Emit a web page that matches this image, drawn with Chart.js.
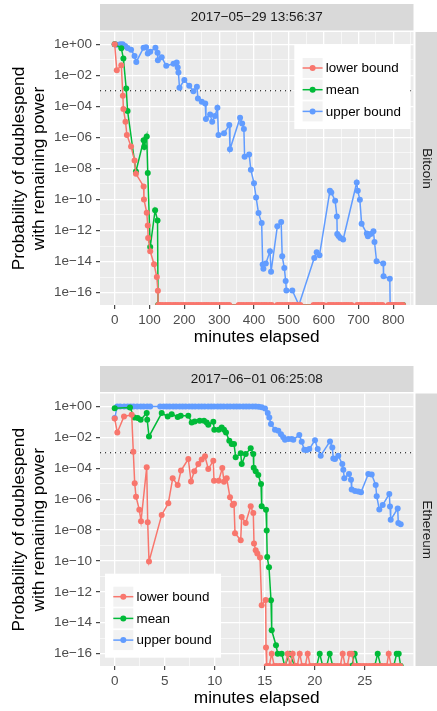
<!DOCTYPE html>
<html>
<head>
<meta charset="utf-8">
<script src="https://cdn.jsdelivr.net/npm/chart.js@4.4.1/dist/chart.umd.min.js"></script>
<style>
body{margin:0;background:#fff;width:437px;height:711px;overflow:hidden;position:relative}
canvas{position:absolute;left:0}
#c1{top:0}
#c2{top:355px}
</style>
</head>
<body>
<canvas id="c1" width="437" height="355"></canvas>
<canvas id="c2" width="437" height="356"></canvas>
<script>
const FONT = '"Liberation Sans", Arial, Helvetica, sans-serif';
const RED = '#F8766D', GREEN = '#00BA38', BLUE = '#619CFF';
const seriesNames = ['lower bound', 'mean', 'upper bound'];
const yTitle = ['Probability of doublespend', 'with remaining power'];
const xTitle = 'minutes elapsed';
const THRESHOLD = -3; // dotted line at 1e-03

// y axis: log10 of the probability
const yExponents = [-16,-15,-14,-13,-12,-11,-10,-9,-8,-7,-6,-5,-4,-3,-2,-1,0];

// ---- Bitcoin ----
const btcDate = '2017\u221205\u221229 13:56:37';
const btcCoin = 'Bitcoin';
const btcXMajor = [0,100,200,300,400,500,600,700,800];
const btcXMinor = [50,150,250,350,450,550,650,750,850];

const btcLowerX = [0,6,19,23.5,25,31,35,47,57,61,83,84,92,95,96,102,113,121,124];
const btcLowerLog = [0,-1.67,-1.35,-3.32,-4.17,-4.99,-5.84,-6.59,-7.49,-8.35,-9.16,-10.0,-10.85,-11.67,-12.48,-13.34,-14.17,-15.0,-15.88];
// minutes where the lower bound is exactly 0
const btcLowerZeroX = [125,131,138,146,153,160,168,175,182,190,197,204,212,219,226,234,241,248,256,263,270,278,285,292,300,307,314,322,329,
  356,363,370,378,385,392,400,407,414,422,429,436,444,451,467,474,481,489,496,503,511,518,525,533,571,578,585,593,600,
  614,621,628,636,643,650,658,665,672,680,696,703,710,718,725,732,740,747,754,762,769,786,793,800,808,815,822,828];

const btcMeanX = [0,19,25,33,37,61,83,85,92,95,102,116,123];
const btcMeanLog = [0,-0.25,-0.92,-2.85,-4.3,-8.2,-6.19,-6.62,-5.94,-8.3,-13.06,-10.7,-11.35];
const btcMeanZeroX = [124.5,828];

const btcUpperX = [0,6,16,23,30,37,47,57,62,83,90,95,102,117,123,124,135,148,169,178,181,183,186,200,214,226,236,239,250,260,
  262,274,280,288,295,298,314,329,331,360,366,371,373,386,391,400,406,413,422,425,427,434,446,449,467,478,481,487,491,493,
  510,573,580,588,618,622,633,638,639,643,648,656,695,698,704,709,724,727,735,743,746,752,771,772,790];
const btcUpperLog = [0,-0.03,0,0,-0.11,-0.24,-0.35,-0.75,-1.14,-0.22,-0.19,-0.6,-0.49,-0.22,-0.54,-1.03,-0.83,-1.39,-1.25,-1.18,
  -1.5,-1.82,-2.8,-2.31,-2.68,-3.02,-2.74,-3.49,-3.7,-3.81,-4.82,-4.52,-4.99,-4.62,-4.09,-5.84,-5.74,-5.2,-6.77,-4.73,
  -5.1,-5.46,-7.24,-7.1,-8.09,-8.95,-9.87,-10.88,-11.52,-14.19,-14.47,-14.13,-13.34,-14.66,-11.73,-11.45,-13.66,-14.41,-15.26,-15.86,
  -15.86,-13.77,-13.4,-13.6,-9.44,-9.55,-10.08,-11.09,-12.22,-12.35,-12.48,-12.58,-8.91,-9.44,-10.02,-11.56,-12.2,-12.37,-12.22,-12.05,
  -12.74,-13.98,-14.13,-14.94,-15.11];
const btcUpperZeroX = [529,791,805,824];

// ---- Ethereum ----
const ethDate = '2017\u221206\u221201 06:25:08';
const ethCoin = 'Ethereum';
const ethXMajor = [0,5,10,15,20,25];
const ethXMinor = [2.5,7.5,12.5,17.5,22.5,27.5];

const ethLowerX = [0,0.26,0.93,1.7,1.86,2.0,2.13,2.46,2.63,3.2,3.3,3.43,4.7,5.36,5.8,6.3,6.63,7.36,7.63,7.96,
  8.36,8.7,9.03,9.36,9.86,9.93,10.4,10.76,10.93,11.2,11.53,11.8,11.93,12.03,12.6,12.7,13.1,13.6,13.86,13.93,
  14.1,14.26,14.53,14.7,15.1,15.13,15.7,17.3,17.8,18.5,19.3,22.8,23.5,23.7,27.4];
const ethLowerLog = [-0.78,-1.68,-0.65,-0.54,-2.93,-4.97,-5.84,-6.68,-7.43,-3.94,-7.5,-10.03,-7.02,-6.27,-4.65,-5.08,-4.15,-3.4,-4.86,-4.2,
  -3.73,-3.44,-3.23,-4.05,-3.51,-4.8,-4.8,-3.99,-4.87,-4.65,-5.88,-6.37,-6.3,-8.2,-8.66,-7.15,-7.54,-6.46,-6.9,-8.87,
  -9.3,-9.52,-9.77,-12.86,-12.53,-15.6,-16,-16,-16,-16,-16,-16,-16,-16,-16];
const ethLowerZeroX = [15.2,15.45,15.95,16.2,16.5,16.8,17.05,17.55,18.05,18.25,18.75,19.05,19.55,19.85,20.15,20.45,20.75,21.05,21.35,21.65,
  21.95,22.25,22.55,23.05,23.25,23.95,24.25,24.55,24.85,25.15,25.45,25.75,26.05,26.35,26.65,26.95,27.2,27.65,27.95,28.25,28.55];

const ethMeanX = [0,1.53,1.96,2.3,2.6,3.2,3.25,3.43,4.7,5.3,5.7,6.3,6.6,7.36,7.7,8.0,8.5,8.93,9.2,9.36,
  9.86,9.96,10.4,10.7,10.93,11.13,11.46,11.7,11.93,12.1,12.6,12.7,13.1,13.6,13.86,13.9,14.1,14.36,14.63,14.7,
  15.13,15.2,15.25,15.43,15.63,15.7,16.13,16.3,16.7,17.5,20.5,21.5,24.0,26.3,28.2,28.4];
const ethMeanLog = [-0.11,-0.06,-0.71,-0.75,-0.86,-0.43,-0.86,-1.94,-0.43,-0.65,-0.5,-0.68,-0.6,-0.6,-1.03,-0.97,-0.92,-0.92,-1.03,-1.18,
  -0.99,-1.5,-1.5,-1.36,-1.5,-1.68,-2.22,-2.43,-2.43,-3.29,-3.02,-3.73,-3.08,-2.71,-3.08,-3.96,-4.2,-4.44,-5.02,-6.46,
  -6.68,-8.03,-9.75,-10.4,-12.55,-14.49,-15.46,-16,-16,-16,-16,-16,-16,-16,-16,-16];
const ethMeanZeroX = [17.0,18.0,20.2,20.8,21.2,21.8,23.7,24.3,26.0,26.6,27.9,28.6];

const ethUpperX = [0,0.25,0.55,0.95,1.3,1.6,1.9,2.25,2.6,2.9,3.25,3.55,4.55,4.9,5.2,5.5,5.85,6.15,6.5,6.8,
  7.1,7.45,7.75,8.05,8.4,8.7,9.0,9.35,9.65,9.95,10.3,10.6,10.9,11.25,11.55,11.9,12.2,12.5,12.85,13.15,
  13.45,13.8,14.1,14.4,14.7,15.03,15.3,15.46,15.63,16.03,16.36,16.63,16.86,17.03,17.36,17.7,17.86,18.46,18.7,18.96,
  19.2,19.46,20.03,20.3,20.6,21.53,21.76,21.86,22.03,22.36,22.76,22.86,22.96,23.43,23.63,23.7,24.03,24.36,24.63,25.36,
  25.7,26.1,26.2,26.46,26.8,27.46,27.53,27.6,28.3,28.36,28.6];
const ethUpperLog = [-0.75,0,0,0,0,0,0,0,0,0,0,0,0,0,0,0,0,0,0,0,
  0,0,0,0,0,0,0,0,0,0,0,0,0,0,0,0,0,0,0,0,
  0,0,0,-0.02,-0.05,-0.13,-0.43,-0.71,-1.14,-1.5,-1.57,-1.79,-2.0,-2.15,-2.11,-2.11,-2.15,-1.85,-2.28,-2.8,
  -2.82,-2.76,-2.18,-2.76,-3.19,-2.26,-2.65,-3.36,-3.4,-3.19,-3.73,-4.09,-4.65,-4.37,-4.74,-5.38,-5.47,-5.51,-5.56,-4.37,
  -4.41,-5.08,-5.81,-6.67,-6.37,-5.67,-6.48,-7.34,-6.61,-7.54,-7.62];
const ethUpperZeroX = [];

// zero probabilities sit on the lower edge of the panel
function toPoints(xs, logs, zeros, floor) {
  const pts = xs.map((x, i) => ({x: x, y: logs[i]}));
  zeros.forEach(x => pts.push({x: x, y: floor}));
  return pts.sort((a, b) => a.x - b.x);
}

function expLabel(v) {
  if (v % 2 !== 0) return '';
  if (v === 0) return '1e+00';
  return '1e\u2212' + String(-v).padStart(2, '0');
}

const facetPlugin = {
  id: 'facet',
  beforeDraw(chart, args, o) {
    const ctx = chart.ctx, a = chart.chartArea;
    ctx.save();
    ctx.fillStyle = '#EBEBEB';
    ctx.fillRect(a.left, a.top, a.right - a.left, a.bottom - a.top);
    ctx.fillStyle = '#D9D9D9';
    ctx.fillRect(a.left, o.stripTop, a.right - a.left, a.top - 1.5 - o.stripTop);
    ctx.fillRect(a.right + 2, a.top, chart.width - a.right - 2, a.bottom - a.top);
    ctx.fillStyle = '#1A1A1A';
    ctx.font = '13.5px ' + FONT;
    ctx.textAlign = 'center';
    ctx.textBaseline = 'middle';
    ctx.fillText(o.date, (a.left + a.right) / 2, (o.stripTop + a.top - 1.5) / 2 + 0.5);
    ctx.translate((a.right + 2 + chart.width) / 2, (a.top + a.bottom) / 2);
    ctx.rotate(Math.PI / 2);
    ctx.fillText(o.coin, 0, 0);
    ctx.restore();

    ctx.save();
    ctx.fillStyle = '#000';
    ctx.font = '17.3px ' + FONT;
    ctx.textAlign = 'center';
    ctx.textBaseline = 'alphabetic';
    ctx.fillText(xTitle, (a.left + a.right) / 2, a.bottom + 37);
    ctx.translate(0, (a.top + a.bottom) / 2);
    ctx.rotate(-Math.PI / 2);
    ctx.textBaseline = 'middle';
    ctx.fillText(yTitle[0], 0, 19);
    ctx.fillText(yTitle[1], 0, 39);
    ctx.restore();
  },
  beforeDatasetsDraw(chart) {
    const ctx = chart.ctx, a = chart.chartArea;
    const py = chart.scales.y.getPixelForValue(THRESHOLD);
    ctx.save();
    ctx.strokeStyle = '#000';
    ctx.lineWidth = 1.1;
    ctx.setLineDash([1.1, 3.9]);
    ctx.beginPath();
    ctx.moveTo(a.left, py);
    ctx.lineTo(a.right, py);
    ctx.stroke();
    ctx.restore();
  },
  afterDraw(chart, args, o) {
    const ctx = chart.ctx, L = o.legend;
    ctx.save();
    ctx.fillStyle = '#fff';
    ctx.fillRect(L.x, L.y, 116, 84);
    chart.data.datasets.forEach((ds, i) => {
      const kx = L.x + 8.3, ky = L.y + 13 + i * 21.7;
      ctx.fillStyle = '#F2F2F2';
      ctx.fillRect(kx, ky, 20, 20);
      ctx.strokeStyle = ds.borderColor;
      ctx.lineWidth = 1.5;
      ctx.beginPath();
      ctx.moveTo(kx, ky + 10);
      ctx.lineTo(kx + 20, ky + 10);
      ctx.stroke();
      ctx.fillStyle = ds.borderColor;
      ctx.beginPath();
      ctx.arc(kx + 10, ky + 10, 3, 0, 2 * Math.PI);
      ctx.fill();
      ctx.fillStyle = '#000';
      ctx.font = '13.4px ' + FONT;
      ctx.textAlign = 'left';
      ctx.textBaseline = 'middle';
      ctx.fillText(ds.label, L.x + 31.5, ky + 10.5);
    });
    ctx.restore();
  }
};

function dataset(label, color, pts) {
  return {
    label: label, data: pts, showLine: true,
    borderColor: color, backgroundColor: color,
    pointBackgroundColor: color, pointBorderWidth: 0,
    pointRadius: 3, pointHoverRadius: 3, borderWidth: 1.5
  };
}

function makeChart(id, p) {
  const xTicks = p.xMajor.concat(p.xMinor).sort((a, b) => a - b);
  const isMajorX = v => p.xMajor.includes(v);
  const isMajorY = v => v % 2 === 0;
  return new Chart(document.getElementById(id), {
    type: 'scatter',
    data: {
      datasets: [
        dataset(seriesNames[0], RED, toPoints(p.lowerX, p.lowerLog, p.lowerZero, p.yMin)),
        dataset(seriesNames[1], GREEN, toPoints(p.meanX, p.meanLog, p.meanZero, p.yMin)),
        dataset(seriesNames[2], BLUE, toPoints(p.upperX, p.upperLog, p.upperZero, p.yMin))
      ]
    },
    options: {
      responsive: false,
      animation: false,
      devicePixelRatio: 1,
      layout: {padding: {left: 0, right: 23.5, top: p.top, bottom: 0}},
      plugins: {
        legend: {display: false},
        tooltip: {enabled: false},
        facet: {stripTop: p.stripTop, date: p.date, coin: p.coin, legend: p.legend}
      },
      scales: {
        x: {
          type: 'linear', min: p.xMin, max: p.xMax,
          afterBuildTicks: s => { s.ticks = xTicks.map(v => ({value: v})); },
          afterFit: s => { s.height = p.xAxisH; },
          border: {display: false},
          grid: {
            color: '#FFFFFF',
            lineWidth: c => isMajorX(c.tick.value) ? 1.3 : 0.6,
            tickColor: c => isMajorX(c.tick.value) ? '#333333' : 'rgba(0,0,0,0)',
            tickLength: 4, tickWidth: 1.1
          },
          ticks: {
            autoSkip: false, maxRotation: 0, padding: 3,
            color: '#4D4D4D', font: {family: FONT, size: 13.5},
            callback: v => isMajorX(v) ? String(v) : ''
          }
        },
        y: {
          type: 'linear', min: p.yMin, max: p.yMax,
          afterBuildTicks: s => { s.ticks = yExponents.map(v => ({value: v})); },
          afterFit: s => { s.width = 100; },
          border: {display: false},
          grid: {
            color: '#FFFFFF',
            lineWidth: c => isMajorY(c.tick.value) ? 1.3 : 0.6,
            tickColor: c => isMajorY(c.tick.value) ? '#333333' : 'rgba(0,0,0,0)',
            tickLength: 4, tickWidth: 1.1
          },
          ticks: {
            autoSkip: false, padding: 4,
            color: '#4D4D4D', font: {family: FONT, size: 13.5},
            callback: v => expLabel(v)
          }
        }
      }
    },
    plugins: [facetPlugin]
  });
}

makeChart('c1', {
  date: btcDate, coin: btcCoin, stripTop: 4, top: 32, xAxisH: 50,
  xMin: -42.2, xMax: 858, yMin: -16.8, yMax: 0.79,
  xMajor: btcXMajor, xMinor: btcXMinor,
  lowerX: btcLowerX, lowerLog: btcLowerLog, lowerZero: btcLowerZeroX,
  meanX: btcMeanX, meanLog: btcMeanLog, meanZero: btcMeanZeroX,
  upperX: btcUpperX, upperLog: btcUpperLog, upperZero: btcUpperZeroX,
  legend: {x: 294.3, y: 45}
});

makeChart('c2', {
  date: ethDate, coin: ethCoin, stripTop: 11, top: 38.5, xAxisH: 45,
  xMin: -1.47, xMax: 29.88, yMin: -16.8, yMax: 0.84,
  xMajor: ethXMajor, xMinor: ethXMinor,
  lowerX: ethLowerX, lowerLog: ethLowerLog, lowerZero: ethLowerZeroX,
  meanX: ethMeanX, meanLog: ethMeanLog, meanZero: ethMeanZeroX,
  upperX: ethUpperX, upperLog: ethUpperLog, upperZero: ethUpperZeroX,
  legend: {x: 105, y: 218.7}
});
</script>
</body>
</html>
